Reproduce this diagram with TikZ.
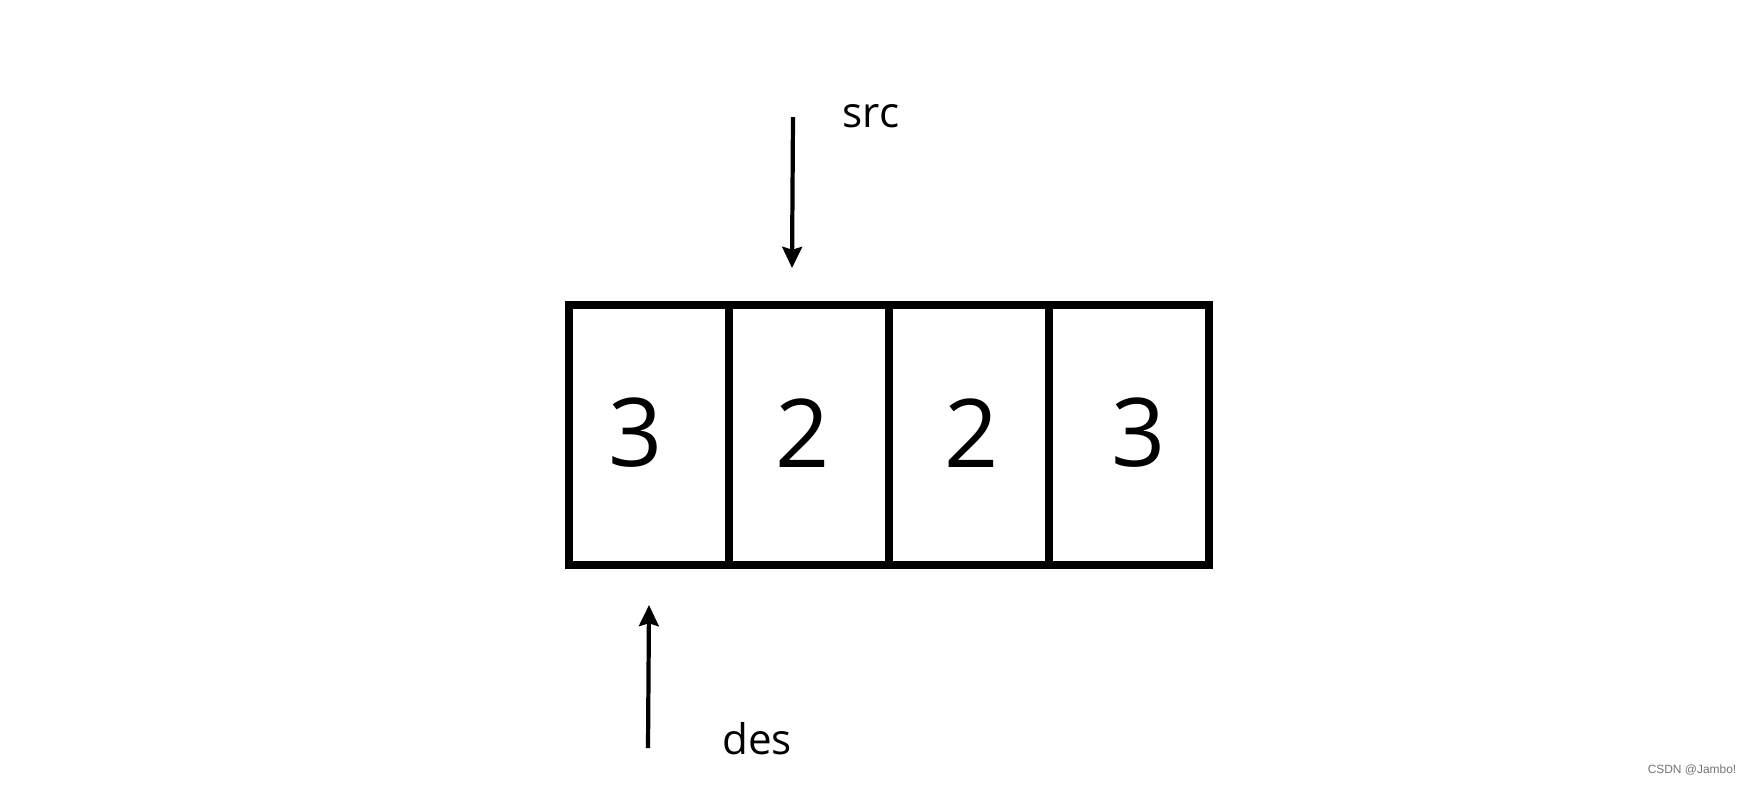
\documentclass[tikz,border=0pt]{standalone}
\usepackage{fontspec}
\setmainfont{Open Sans}
\newfontfamily\wmfont{Liberation Sans}
\usetikzlibrary{arrows.meta}

\begin{document}
\begin{tikzpicture}[>={Stealth[length=6pt,width=5.6pt,inset=0.8pt]}]
\tikzstyle{cell}=[draw,line width=0.08cm,minimum width=1.6cm,minimum height=2.6cm,inner sep=0pt]
\tikzstyle{digit}=[inner sep=0pt,font=\fontsize{27}{29}\selectfont]
\tikzstyle{lbl}=[inner sep=0pt,font=\fontsize{12}{14}\selectfont]
\tikzstyle{ptr}=[->,line width=1.2pt]
\useasboundingbox (0,0) rectangle (17.46,-7.84);
\foreach \i/\v/\d in {1/3/-0.13,2/2/-0.06,3/2/0.03,4/3/0.10} {
 \node[cell] (c\i) at (4.89+\i*1.6,-4.35) {};
 \node[digit] (d\i) at ([xshift=\d cm,yshift=0.02cm]c\i.center) {\v};
}
\node[lbl] (src) at (8.71,-1.16) {src};
\coordinate (srcfrom) at (7.93,-1.17); \coordinate (srcto) at (7.92,-2.68);
\draw[ptr] (srcfrom) -- (srcto);
\node[lbl] (des) at (7.57,-7.39) {des};
\coordinate (desfrom) at (6.48,-7.48); \coordinate (desto) at (6.49,-6.05);
\draw[ptr] (desfrom) -- (desto);
\node[inner sep=0pt,text=black!55,font=\wmfont\fontsize{3.4}{4}\selectfont] (wm) at (16.92,-7.70) {CSDN @Jambo!};
\end{tikzpicture}
\end{document}
